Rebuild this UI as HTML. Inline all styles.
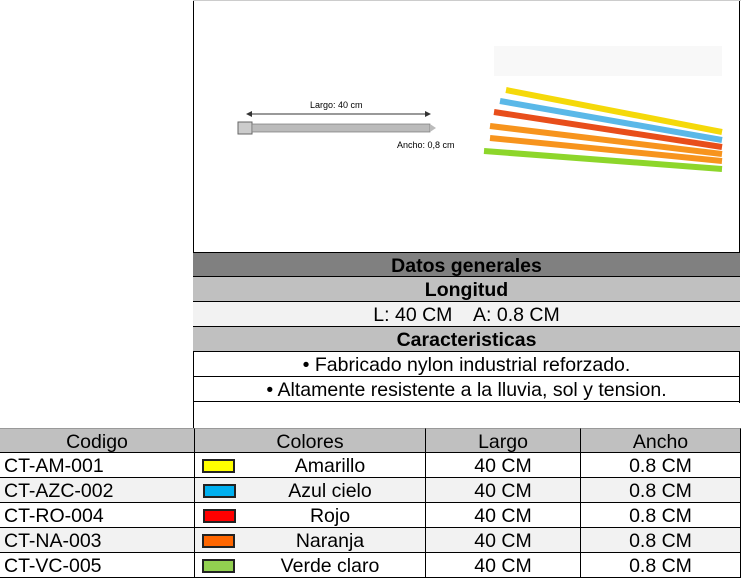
<!DOCTYPE html>
<html><head><style>
body{margin:0;width:741px;height:580px;background:#fff;font-family:"Liberation Sans",Arial,sans-serif;position:relative;overflow:hidden}
.a{position:absolute;box-sizing:border-box}
.r{position:absolute;left:193px;width:547px;height:25px;line-height:27px;text-align:center;font-size:19.5px;color:#000;border-bottom:1px solid #000;box-sizing:border-box;white-space:nowrap}
.c{position:absolute;height:25px;line-height:27px;font-size:19.5px;box-sizing:border-box;border-bottom:1px solid #000;border-right:1px solid #000;white-space:nowrap}
</style></head><body>
<div class="a" style="left:193px;top:0;width:1px;height:428px;background:#000"></div>
<div class="a" style="left:739px;top:0;width:1px;height:403px;background:#000"></div>
<div class="a" style="left:193px;top:0;width:548px;height:1px;background:#ccc"></div>
<svg class="a" style="left:194px;top:0" width="546" height="251">
<line x1="55" y1="114" x2="234" y2="114" stroke="#333" stroke-width="1"/>
<polygon points="52,114 58,111 58,117" fill="#333"/><polygon points="237,114 231,111 231,117" fill="#333"/>
<text x="116" y="108" font-size="9" font-family="Liberation Sans">Largo: 40 cm</text>
<rect x="44" y="122" width="14" height="12" fill="#ccc" stroke="#666"/>
<rect x="58" y="124" width="178" height="8" fill="#bbb" stroke="#777" stroke-width="0.7"/>
<polygon points="236,124 242,128 236,132" fill="#bbb"/>
<text x="203" y="148" font-size="9" font-family="Liberation Sans">Ancho: 0,8 cm</text>
<rect x="300" y="46" width="228" height="30" fill="#f8f8f8"/>
<g stroke-width="6" stroke-linecap="butt">
<line x1="312" y1="90" x2="528" y2="132" stroke="#f5d90a"/>
<line x1="306" y1="101" x2="528" y2="140" stroke="#5ab8e8"/>
<line x1="300" y1="112" x2="528" y2="147" stroke="#e84e1b"/>
<line x1="296" y1="126" x2="528" y2="154" stroke="#f7941d"/>
<line x1="296" y1="138" x2="528" y2="161" stroke="#f7941d"/>
<line x1="290" y1="151" x2="528" y2="169" stroke="#8dd62b"/>
</g>
</svg>
<div class="r" style="top:252px;background:#808080;font-weight:bold;border-top:1px solid #000">Datos generales</div>
<div class="r" style="top:277px;background:#c0c0c0;font-weight:bold">Longitud</div>
<div class="r" style="top:302px;background:#f2f2f2">L: 40 CM &nbsp;&nbsp; A: 0.8 CM</div>
<div class="r" style="top:327px;background:#c0c0c0;font-weight:bold">Caracteristicas</div>
<div class="r" style="top:352px">• Fabricado nylon industrial reforzado.</div>
<div class="r" style="top:377px">• Altamente resistente a la lluvia, sol y tension.</div>

<div class="a" style="left:0;top:428px;width:741px;height:25px;background:#c0c0c0;border-top:1px solid #999"></div>
<div class="c" style="left:0;top:428px;width:195px;text-align:center;border-top:1px solid #999">Codigo</div>
<div class="c" style="left:195px;top:428px;width:231px;text-align:center;border-top:1px solid #999">Colores</div>
<div class="c" style="left:426px;top:428px;width:155px;text-align:center;border-top:1px solid #999">Largo</div>
<div class="c" style="left:581px;top:428px;width:160px;text-align:center;border-top:1px solid #999">Ancho</div>

<div class="c" style="left:0;top:453px;width:195px;padding-left:4px">CT-AM-001</div><div class="c" style="left:195px;top:453px;width:231px;text-align:center;padding-left:40px">Amarillo</div><div class="c" style="left:426px;top:453px;width:155px;text-align:center">40 CM</div><div class="c" style="left:581px;top:453px;width:160px;text-align:center">0.8 CM</div>
<div class="a" style="left:0;top:478px;width:741px;height:25px;background:#f2f2f2"></div>
<div class="c" style="left:0;top:478px;width:195px;padding-left:4px">CT-AZC-002</div><div class="c" style="left:195px;top:478px;width:231px;text-align:center;padding-left:40px">Azul cielo</div><div class="c" style="left:426px;top:478px;width:155px;text-align:center">40 CM</div><div class="c" style="left:581px;top:478px;width:160px;text-align:center">0.8 CM</div>
<div class="c" style="left:0;top:503px;width:195px;padding-left:4px">CT-RO-004</div><div class="c" style="left:195px;top:503px;width:231px;text-align:center;padding-left:40px">Rojo</div><div class="c" style="left:426px;top:503px;width:155px;text-align:center">40 CM</div><div class="c" style="left:581px;top:503px;width:160px;text-align:center">0.8 CM</div>
<div class="a" style="left:0;top:528px;width:741px;height:25px;background:#f2f2f2"></div>
<div class="c" style="left:0;top:528px;width:195px;padding-left:4px">CT-NA-003</div><div class="c" style="left:195px;top:528px;width:231px;text-align:center;padding-left:40px">Naranja</div><div class="c" style="left:426px;top:528px;width:155px;text-align:center">40 CM</div><div class="c" style="left:581px;top:528px;width:160px;text-align:center">0.8 CM</div>
<div class="c" style="left:0;top:553px;width:195px;padding-left:4px">CT-VC-005</div><div class="c" style="left:195px;top:553px;width:231px;text-align:center;padding-left:40px">Verde claro</div><div class="c" style="left:426px;top:553px;width:155px;text-align:center">40 CM</div><div class="c" style="left:581px;top:553px;width:160px;text-align:center">0.8 CM</div>

<div class="a" style="left:202px;top:459px;width:33px;height:14px;background:#ffff00;border:2px solid #222"></div>
<div class="a" style="left:203px;top:484px;width:33px;height:14px;background:#00b0f0;border:2px solid #222"></div>
<div class="a" style="left:203px;top:509px;width:33px;height:14px;background:#ff0000;border:2px solid #222"></div>
<div class="a" style="left:202px;top:534px;width:33px;height:14px;background:#ff6600;border:2px solid #222"></div>
<div class="a" style="left:202px;top:559px;width:33px;height:14px;background:#92d050;border:2px solid #222"></div>
</body></html>
